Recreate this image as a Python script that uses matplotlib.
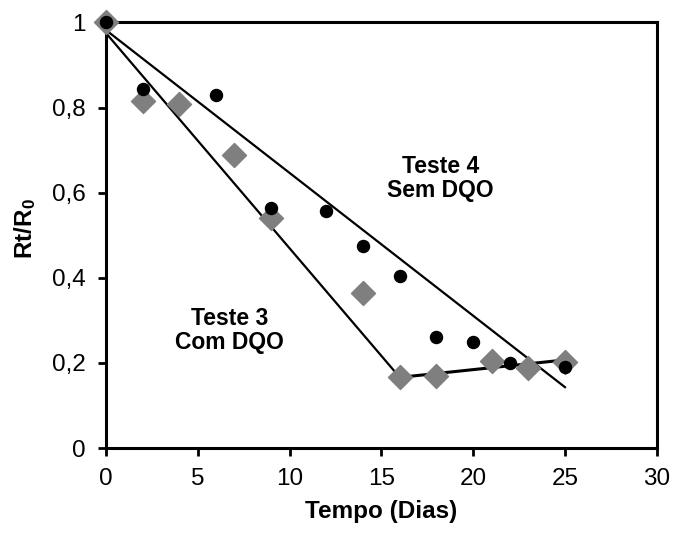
import matplotlib
matplotlib.use("Agg")
import matplotlib.pyplot as plt

plt.rcParams['font.family'] = ['Liberation Sans', 'DejaVu Sans']
plt.rcParams['mathtext.fontset'] = 'custom'
plt.rcParams['mathtext.rm'] = 'Liberation Sans'
plt.rcParams['mathtext.bf'] = 'Liberation Sans:bold'

# Teste 4 (sem DQO) - circulos
dias_t4 = [0, 2, 6, 9, 12, 14, 16, 18, 20, 22, 25]
rt_t4 = [1.0, 0.843, 0.83, 0.563, 0.556, 0.474, 0.404, 0.262, 0.248, 0.199, 0.19]

# Teste 3 (com DQO) - losangos
dias_t3 = [0, 2, 4, 7, 9, 14, 16, 18, 21, 23, 25]
rt_t3 = [1.0, 0.815, 0.808, 0.689, 0.54, 0.364, 0.168, 0.17, 0.205, 0.187, 0.203]

# linhas de tendencia
trend_t4_x = [0, 25]
trend_t4_y = [0.982, 0.143]
trend_t3a_x = [0, 16]
trend_t3a_y = [0.975, 0.166]
trend_t3b_x = [16, 25]
trend_t3b_y = [0.166, 0.207]

x_ticks = [0, 5, 10, 15, 20, 25, 30]
y_ticks = [0, 0.2, 0.4, 0.6, 0.8, 1.0]
y_labels = ['0', '0,2', '0,4', '0,6', '0,8', '1']

fig = plt.figure(figsize=(6.75, 5.34), dpi=100)
ax = fig.add_axes([0.157, 0.161, 0.816, 0.797])

ax.plot(trend_t4_x, trend_t4_y, color='black', lw=1.6, zorder=2)
ax.plot(trend_t3a_x, trend_t3a_y, color='black', lw=1.6, zorder=2)
ax.plot(trend_t3b_x, trend_t3b_y, color='black', lw=2.2, zorder=2)

ax.scatter(dias_t3, rt_t3, marker='D', s=150, color='#7f7f7f', zorder=3, clip_on=False)
ax.scatter(dias_t4, rt_t4, marker='o', s=75, color='black', zorder=4, clip_on=False)

ax.text(18.2, 0.633, 'Teste 4\nSem DQO', ha='center', va='center',
        fontsize=16.5, fontweight='bold', linespacing=1.05)
ax.text(6.75, 0.276, 'Teste 3\nCom DQO', ha='center', va='center',
        fontsize=16.5, fontweight='bold', linespacing=1.05)

ax.set_xlim(0, 30)
ax.set_ylim(0, 1)
ax.set_xticks(x_ticks)
ax.set_yticks(y_ticks)
ax.set_yticklabels(y_labels)
ax.tick_params(direction='out', length=5.5, width=2, labelsize=17.5, pad=9)
for s in ax.spines.values():
    s.set_linewidth(2.2)

ax.set_xlabel('Tempo (Dias)', fontsize=17.5, fontweight='bold', labelpad=7)
ax.set_ylabel(r'Rt/R$\mathbf{_0}$', fontsize=17.5, fontweight='bold')
ax.yaxis.set_label_coords(-0.123, 0.515)

fig.savefig('out.png', dpi=100)
